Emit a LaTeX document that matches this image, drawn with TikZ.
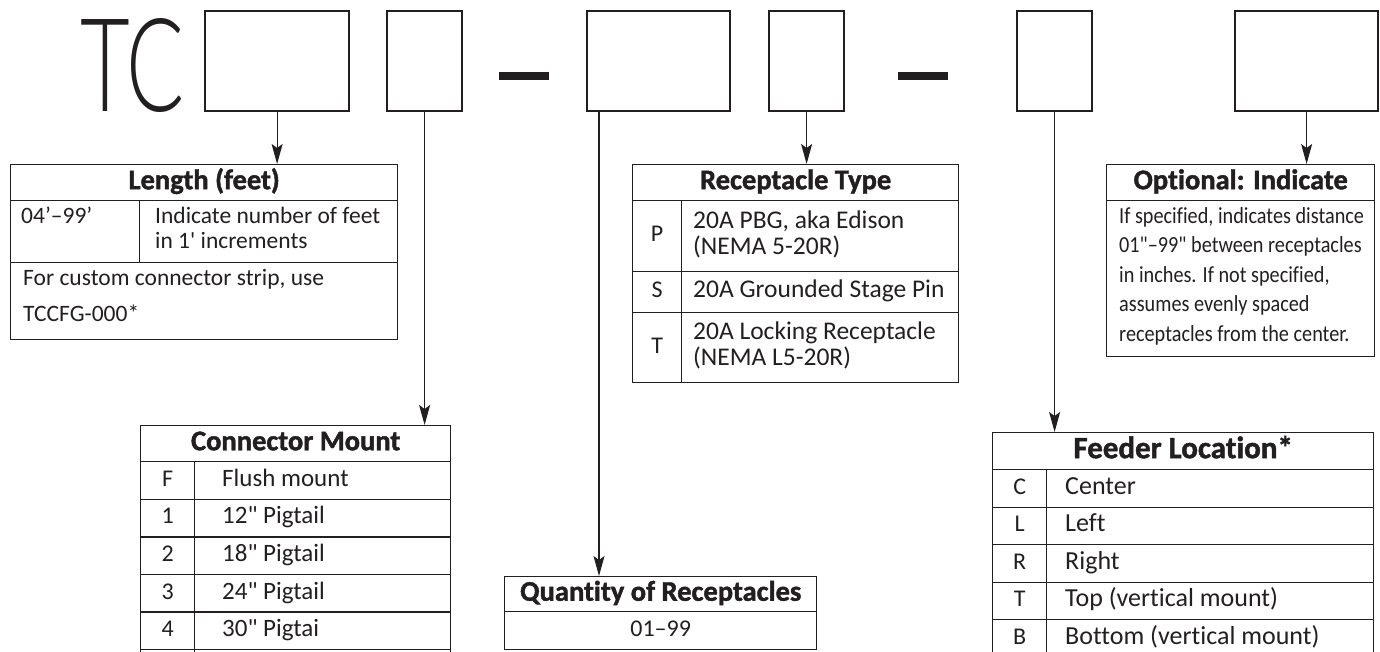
\documentclass[tikz,border=0pt]{standalone}
\usepackage{fontspec}
\newfontfamily\bodyfam{Carlito}[Ligatures=NoCommon]
\newfontfamily\headfam{Carlito}[Ligatures=NoCommon,BoldFeatures={FakeBold=1.5}]
\newfontfamily\condfam{Carlito}[Ligatures=NoCommon,FakeStretch=0.88]
\newfontfamily\tcfam{Lato Light}[FakeStretch=0.66]
\definecolor{ink}{HTML}{231F20}
\usetikzlibrary{arrows.meta,positioning}
\begin{document}
\begin{tikzpicture}[x=1pt,y=-1pt,
  slot/.style={draw=ink,line width=2.2pt,anchor=north west,inner sep=0pt,
    minimum height=100pt},
  bar/.style={fill=ink,inner sep=0pt,minimum width=50pt,minimum height=8pt},
  frame/.style={draw=ink,line width=1.3pt,anchor=north west,inner sep=0pt,
    text=ink,font=\bodyfam\fontsize{24}{29}\selectfont,
    execute at begin node=\strut,execute at end node=\strut},
  head/.style={frame,font=\headfam\bfseries\fontsize{28.5}{33}\selectfont},
  txt/.style={inner sep=0pt,align=left,text=ink,
    font=\bodyfam\fontsize{25}{29}\selectfont,
    execute at begin node=\strut,execute at end node=\strut},
  arr/.style={-{Stealth[length=20pt,width=11pt,inset=4pt]},line width=1.1pt,draw=ink}]
  \useasboundingbox (0,0) rectangle (1380,652);
  \clip (0,0) rectangle (1380,652);
  \node[anchor=base west,inner sep=0pt,text=ink,
    font=\tcfam\fontsize{130}{130}\selectfont] (tc) at (80,112) {TC};
  \node[slot,minimum width=144pt] (b1) at (204,10) {};
  \node[slot,minimum width=75pt] (b2) at (386,10) {};
  \node[bar] (d1) at (524,76) {};
  \node[slot,minimum width=143pt] (b3) at (586,10) {};
  \node[slot,minimum width=75pt] (b4) at (768,10) {};
  \node[bar] (d2) at (923,76) {};
  \node[slot,minimum width=75pt] (b5) at (1016,10) {};
  \node[slot,minimum width=143pt] (b6) at (1234,10) {};

  \node[head,minimum width=387pt,minimum height=36pt] (lenH) at (10,164) {Length (feet)};
  \node[frame,minimum width=129pt,minimum height=62pt] (lenA) at (10,200) {};
  \node[txt,right=11pt of lenA.west,font=\bodyfam\fontsize{23.5}{25}\selectfont]
    (lenAt) {04’–99’\\\mbox{}};
  \node[frame,minimum width=258pt,minimum height=62pt] (lenB) at (139,200) {};
  \node[txt,right=16pt of lenB.west,font=\bodyfam\fontsize{23.5}{25}\selectfont]
    (lenBt) {Indicate number of feet\\in 1' increments};
  \node[frame,minimum width=387pt,minimum height=77pt] (lenC) at (10,262) {};
  \node[txt,right=13pt of lenC.west,font=\bodyfam\fontsize{23.5}{36}\selectfont]
    (lenCt) {For custom connector strip, use\\TCCFG-000*};

  \node[head,minimum width=310pt,minimum height=36pt] (cmH) at (140,425) {Connector Mount};
  \foreach \k/\t [count=\i from 0] in {F/Flush mount,1/12" Pigtail,2/18" Pigtail,
      3/24" Pigtail,4/30" Pigtai,{}/{}} {
    \node[frame,minimum width=54pt,minimum height=37.6pt] (cmk\i) at (140,{461+37.6*\i}) {\k};
    \node[frame,minimum width=256pt,minimum height=37.6pt] (cmr\i) at (194,{461+37.6*\i}) {};
    \node[txt,right=28pt of cmr\i.west] (cmt\i) {\t};
  }

  \node[head,minimum width=312pt,minimum height=35pt] (qtyH) at (504,576) {Quantity of Receptacles};
  \node[frame,minimum width=312pt,minimum height=38pt] (qtyR) at (504,611) {01–99};

  \node[head,minimum width=326pt,minimum height=36pt] (recH) at (632,164) {Receptacle Type};
  \node[frame,minimum width=49pt,minimum height=71pt] (recPk) at (632,200) {P};
  \node[frame,minimum width=277pt,minimum height=71pt] (recPr) at (681,200) {};
  \node[txt,right=12pt of recPr.west,font=\bodyfam\fontsize{25.5}{26}\selectfont]
    (recPt) {20A PBG, aka Edison\\(NEMA 5-20R)};
  \node[frame,minimum width=49pt,minimum height=41pt] (recSk) at (632,271) {S};
  \node[frame,minimum width=277pt,minimum height=41pt] (recSr) at (681,271) {};
  \node[txt,right=12pt of recSr.west,font=\bodyfam\fontsize{25.5}{29}\selectfont]
    (recSt) {20A Grounded Stage Pin};
  \node[frame,minimum width=49pt,minimum height=70pt] (recTk) at (632,312) {T};
  \node[frame,minimum width=277pt,minimum height=70pt] (recTr) at (681,312) {};
  \node[txt,right=12pt of recTr.west,font=\bodyfam\fontsize{25.5}{26}\selectfont]
    (recTt) {20A Locking Receptacle\\(NEMA L5-20R)};

  \node[head,minimum width=381pt,minimum height=37pt,
    font=\headfam\bfseries\fontsize{31}{35}\selectfont] (fdH) at (992,432) {Feeder Location*};
  \foreach \k/\t [count=\i from 0] in {C/Center,L/Left,R/Right,
      T/Top (vertical mount),B/Bottom (vertical mount)} {
    \node[frame,minimum width=54pt,minimum height=37.5pt] (fdk\i) at (992,{469+37.5*\i}) {\k};
    \node[frame,minimum width=327pt,minimum height=37.5pt] (fdr\i) at (1046,{469+37.5*\i}) {};
    \node[txt,right=19pt of fdr\i.west,font=\bodyfam\fontsize{26}{29}\selectfont] (fdt\i) {\t};
  }

  \node[head,minimum width=268pt,minimum height=36pt] (optH) at (1106,164) {Optional: Indicate};
  \node[frame,minimum width=268pt,minimum height=156pt] (optB) at (1106,200) {};
  \node[txt,right=13pt of optB.west,font=\condfam\fontsize{23}{29.5}\selectfont]
    (optT) {If specified, indicates distance\\01"–99" between receptacles\\
    in inches. If not specified,\\assumes evenly spaced\\receptacles from the center.};

  \coordinate (q3) at ([xshift=13pt]b3.south west);
  \draw[arr] (b1.south) -- (b1.south |- lenH.north);
  \draw[arr] (b2.south) -- (b2.south |- cmH.north);
  \draw[arr] (q3) -- (q3 |- qtyH.north);
  \draw[arr] (b4.south) -- (b4.south |- recH.north);
  \draw[arr] (b5.south) -- (b5.south |- fdH.north);
  \draw[arr] (b6.south) -- (b6.south |- optH.north);
\end{tikzpicture}
\end{document}
